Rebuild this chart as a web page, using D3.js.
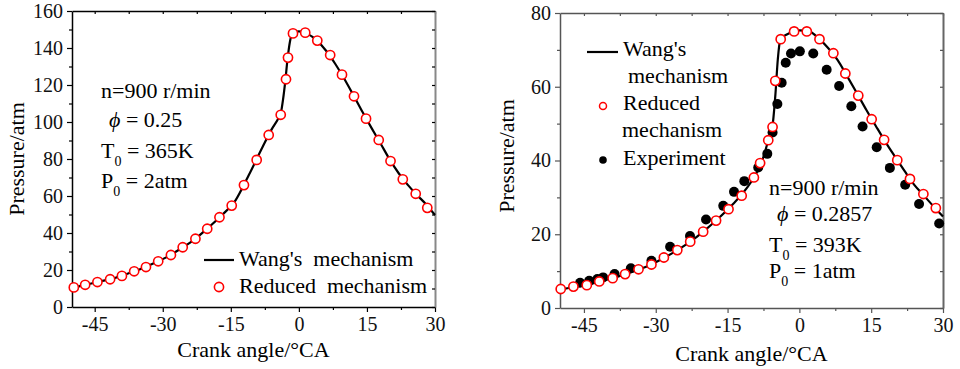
<!DOCTYPE html>
<html><head><meta charset="utf-8">
<script src="https://cdn.jsdelivr.net/npm/d3@7"></script>
<style>
body{margin:0;background:#fff;}
svg text{font-family:"Liberation Serif","Times New Roman",serif !important; white-space:pre;}
</style></head>
<body><svg id="c" width="960" height="369" font-family="Liberation Serif"></svg>
<script>
// ---------- data ----------
const xTicks = [-45, -30, -15, 0, 15, 30];
const xMinor = [-37.5, -22.5, -7.5, 7.5, 22.5];
const leftYTicks = [0, 20, 40, 60, 80, 100, 120, 140, 160];
const rightYTicks = [0, 20, 40, 60, 80];

// left panel: Wang's mechanism (line)
const leftLineX = [-50,-47,-44,-41,-38,-35,-32,-29,-26,-23,-20,-17,-14,-11,-8,-6,-4.5,-4,-3.5,-3,-2.5,-2,-1.5,-1,0,1,2,3,4,6,8,10,12,14,16,18,20,22,24,26,28,30];
const leftLineY = [10.3,12,13.7,15.4,17.8,20.4,23.6,27.1,31.6,36.6,42.8,49.6,57.5,71.5,86.5,96,102,104.5,112,122,134,143,147.8,148.6,149,148.6,147.5,146,144,138.5,131.5,123.4,114.6,105.5,96.8,88.4,79.8,72.3,66,60.6,55.6,49.7];
// left panel: Reduced mechanism (circles)
const leftRedX = [-49.6,-47.1,-44.4,-41.6,-39.0,-36.3,-33.7,-31.0,-28.2,-25.6,-22.8,-20.2,-17.5,-14.8,-12.1,-9.3,-6.65,-4.0,-2.84,-2.4,-1.3,1.4,4.06,6.9,9.5,12.15,14.8,17.6,20.2,22.9,25.75,28.3];
const leftRedY = [10.6,12.0,13.5,15.0,16.8,19.3,21.6,24.7,28.1,32.3,36.9,42.3,48.5,54.8,65.9,79.5,93.0,103.9,123.1,134.8,147.9,148.3,144.0,136.2,125.6,113.9,101.8,90.3,78.9,69.0,61.2,53.6];

// right panel: Wang's mechanism (line)
const rightLineX = [-50,-47,-44,-41,-38,-35,-32,-29,-26,-23,-20,-17,-14,-11,-9,-7.5,-6.5,-5.6,-5,-4.5,-4,-3,-2,0,2,4,6,8,10,12,14,16,18,20,22,24,26,28,30];
const rightLineY = [5.0,5.7,6.4,7.4,8.5,9.8,11.2,13.1,15.3,17.8,20.8,24.2,28.0,32.5,36.5,41,45.5,49.5,58,67.5,72.6,73.9,74.6,75.3,75.0,73.2,70.5,67.2,62.8,58.3,53.7,49.3,45.0,41.0,37.1,33.4,30.5,27.6,24.8];
// right panel: Reduced mechanism (circles)
const rightRedX = [-49.85,-47.2,-44.4,-41.8,-39.0,-36.4,-33.6,-30.9,-28.3,-25.5,-22.8,-20.1,-17.4,-14.8,-12.05,-9.5,-8.2,-6.5,-5.6,-5.03,-3.9,-1.1,1.55,4.2,7.1,9.6,12.3,15.1,17.7,20.45,23.1,25.9,28.5];
const rightRedY = [5.15,5.8,6.2,7.2,8.1,9.2,10.5,11.8,13.7,15.7,18.0,20.7,23.7,26.8,30.45,35.4,39.3,45.5,49.1,61.6,72.9,75.0,75.0,72.9,69.1,63.6,57.6,51.2,45.6,40.1,35.0,30.9,27.1];
// right panel: Experiment (filled dots)
const expX = [-45.8,-43.9,-42.2,-41.0,-38.6,-35.2,-30.9,-27.0,-22.85,-19.5,-15.9,-13.65,-11.5,-8.6,-6.7,-5.6,-4.6,-3.7,-2.85,-1.75,0.1,2.9,5.7,8.3,10.85,13.2,16.15,18.9,22.1,25.0,29.2];
const expY = [6.86,7.4,7.87,8.3,9.2,10.76,12.8,16.6,19.5,24.0,27.7,31.5,34.4,38.1,41.8,47.6,55.3,61.1,66.5,69.0,69.6,69.0,64.6,60.2,54.7,49.2,43.6,38.0,33.4,28.2,22.9];

const svg = d3.select("#c");
const TFS = 20;   // tick labels
const FS = 22;    // titles, legend, annotations
const FF = "Liberation Serif";

function panel(o){
  const g = svg.append("g");
  const x = d3.scaleLinear().domain([-50,30]).range([o.x0,o.x1]);
  const y = d3.scaleLinear().domain([0,o.ymax]).range([o.y0,o.y1]);
  const ac = o.axisColor;
  const fmt = d => String(d);
  g.append("g").attr("transform",`translate(0,${o.y0})`)
    .call(d3.axisBottom(x).tickValues(xTicks).tickSize(5).tickSizeOuter(0).tickPadding(5).tickFormat(fmt));
  g.append("g").attr("transform",`translate(0,${o.y0})`)
    .call(d3.axisBottom(x).tickValues(xMinor).tickSize(3).tickSizeOuter(0).tickFormat(""))
    .call(s=>s.select(".domain").remove());
  g.append("g").attr("transform",`translate(${o.x0},0)`)
    .call(d3.axisLeft(y).tickValues(o.yTicks).tickSize(5).tickSizeOuter(0).tickPadding(4).tickFormat(fmt));
  g.append("g").attr("transform",`translate(${o.x0},0)`)
    .call(d3.axisLeft(y).tickValues(o.yMinor).tickSize(3).tickSizeOuter(0).tickFormat(""))
    .call(s=>s.select(".domain").remove());
  g.append("g").attr("transform",`translate(0,${o.y1})`)
    .call(d3.axisTop(x).tickValues(xTicks.concat(xMinor)).tickSize(-3).tickSizeOuter(0).tickFormat(""));
  g.append("g").attr("transform",`translate(${o.x1},0)`)
    .call(d3.axisRight(y).tickValues(o.yTicks.concat(o.yMinor)).tickSize(-3).tickSizeOuter(0).tickFormat(""))
    .call(s=>s.select(".domain").attr("stroke",o.rightColor).attr("stroke-width",2));
  g.selectAll(".domain").filter(function(){return !this.getAttribute("stroke-width");}).attr("stroke",ac).attr("stroke-width",1.5);
  g.selectAll(".tick line").attr("stroke",ac).attr("stroke-width",1.2);
  g.selectAll("g").attr("font-family",FF).attr("font-size",TFS);
  g.selectAll(".tick text").attr("fill","#111");
  g.append("text").attr("x",(o.x0+o.x1)/2).attr("y",o.xtY).attr("text-anchor","middle")
    .attr("font-size",FS).text("Crank angle/°CA");
  g.append("text").attr("transform",`translate(${o.ytX},${o.ytYc}) rotate(-90)`).attr("text-anchor","middle")
    .attr("font-size",FS).text("Pressure/atm");
  return {g,x,y};
}

// ---------- left panel ----------
const L = panel({x0:72,x1:435,y0:307,y1:11,ymax:160,yTicks:leftYTicks,yMinor:[10,30,50,70,90,110,130,150],
  axisColor:"#000",rightColor:"#888",xtY:357,ytX:24,ytYc:159});
const lineGen = (p)=>d3.line().x(d=>p.x(d[0])).y(d=>p.y(d[1])).curve(d3.curveMonotoneX);
L.g.append("path").datum(d3.zip(leftLineX,leftLineY)).attr("d",lineGen(L))
  .attr("fill","none").attr("stroke","#000").attr("stroke-width",2.2);
L.g.selectAll("circle.red").data(d3.zip(leftRedX,leftRedY)).join("circle")
  .attr("cx",d=>L.x(d[0])).attr("cy",d=>L.y(d[1])).attr("r",4.6)
  .attr("fill","#fff").attr("stroke","#f00").attr("stroke-width",1.6);
L.g.append("line").attr("x1",204).attr("x2",234).attr("y1",260).attr("y2",260).attr("stroke","#000").attr("stroke-width",2.2);
L.g.append("text").attr("x",239).attr("y",266).attr("font-size",FS).text("Wang's  mechanism");
L.g.append("circle").attr("cx",219).attr("cy",287).attr("r",4.6).attr("fill","#fff").attr("stroke","#f00").attr("stroke-width",1.6);
L.g.append("text").attr("x",239).attr("y",293).attr("font-size",FS).text("Reduced  mechanism");

function annot(g,x,ys,phi,t,p){
  g.append("text").attr("x",x).attr("y",ys[0]).attr("font-size",FS).text("n=900 r/min");
  const ph = g.append("text").attr("x",x+8).attr("y",ys[1]).attr("font-size",FS);
  ph.append("tspan").attr("font-style","italic").text("\u03d5");
  ph.append("tspan").text(" = "+phi);
  const tt = g.append("text").attr("x",x).attr("y",ys[2]).attr("font-size",FS);
  tt.append("tspan").text("T");
  tt.append("tspan").attr("dy",8).attr("font-size",14).text("0");
  tt.append("tspan").attr("dy",-8).text(" = "+t);
  const pp = g.append("text").attr("x",x).attr("y",ys[3]).attr("font-size",FS);
  pp.append("tspan").text("P");
  pp.append("tspan").attr("dy",8).attr("font-size",14).text("0");
  pp.append("tspan").attr("dy",-8).text(" = "+p);
}
annot(L.g,101,[98,127,158,188],"0.25","365K","2atm");

// ---------- right panel ----------
const R = panel({x0:560,x1:943,y0:308,y1:13,ymax:80,yTicks:rightYTicks,yMinor:[10,30,50,70],
  axisColor:"#555",rightColor:"#666",xtY:361,ytX:514,ytYc:156});
R.g.append("path").datum(d3.zip(rightLineX,rightLineY)).attr("d",lineGen(R))
  .attr("fill","none").attr("stroke","#000").attr("stroke-width",2.2);
R.g.selectAll("circle.exp").data(d3.zip(expX,expY)).join("circle")
  .attr("cx",d=>R.x(d[0])).attr("cy",d=>R.y(d[1])).attr("r",5).attr("fill","#000");
R.g.selectAll("circle.red").data(d3.zip(rightRedX,rightRedY)).join("circle").attr("class","red")
  .attr("cx",d=>R.x(d[0])).attr("cy",d=>R.y(d[1])).attr("r",4.6)
  .attr("fill","#fff").attr("stroke","#f00").attr("stroke-width",1.6);
R.g.append("line").attr("x1",587).attr("x2",618).attr("y1",52).attr("y2",52).attr("stroke","#000").attr("stroke-width",2.2);
R.g.append("text").attr("x",623).attr("y",56).attr("font-size",FS).text("Wang's");
R.g.append("text").attr("x",628).attr("y",83).attr("font-size",FS).text("mechanism");
R.g.append("circle").attr("cx",603).attr("cy",106).attr("r",3.5).attr("fill","#fff").attr("stroke","#f00").attr("stroke-width",1.5);
R.g.append("text").attr("x",623).attr("y",110).attr("font-size",FS).text("Reduced");
R.g.append("text").attr("x",622).attr("y",137).attr("font-size",FS).text("mechanism");
R.g.append("circle").attr("cx",603).attr("cy",160).attr("r",3.8).attr("fill","#000");
R.g.append("text").attr("x",623).attr("y",165).attr("font-size",FS).text("Experiment");
annot(R.g,769,[195,221,252,278],"0.2857","393K","1atm");
</script></body></html>
